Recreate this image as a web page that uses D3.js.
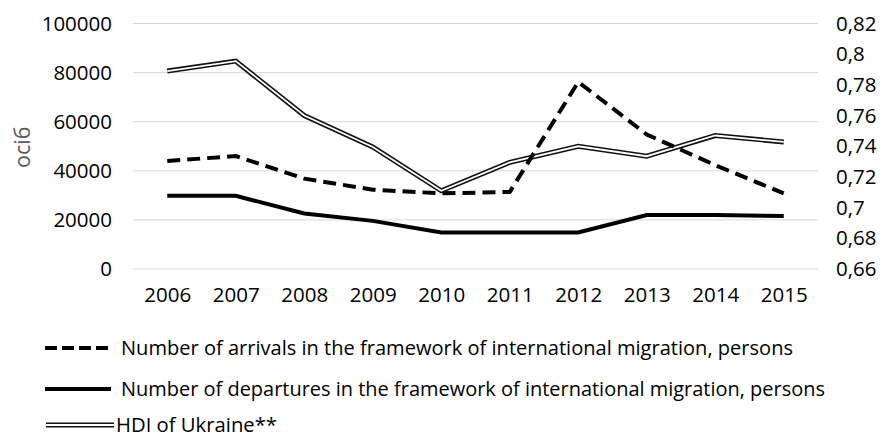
<!DOCTYPE html>
<html>
<head>
<meta charset="utf-8">
<script src="https://cdn.jsdelivr.net/npm/d3@7"></script>
<style>
  body { margin: 0; background: #fff; }
  svg { display: block; font-family: "Open Sans", sans-serif; }
</style>
</head>
<body>
<div id="chart"></div>
<script>
// data
const years = ["2006", "2007", "2008", "2009", "2010", "2011", "2012", "2013", "2014", "2015"];
const arrivals = [44000, 46000, 36800, 32300, 30800, 31400, 76200, 54800, 42300, 30800];
const departures = [29800, 29800, 22600, 19600, 14900, 14900, 14900, 22000, 22000, 21600];
const hdi = [0.789, 0.7955, 0.760, 0.7395, 0.711, 0.7295, 0.740, 0.7335, 0.747, 0.7428];
const leftTicks = [0, 20000, 40000, 60000, 80000, 100000];
const rightTicks = [0.66, 0.68, 0.70, 0.72, 0.74, 0.76, 0.78, 0.80, 0.82];
const yTitle = "осіб";
const legendLabels = [
    "Number of arrivals in the framework of international migration, persons",
    "Number of departures in the framework of international migration, persons",
    "HDI of Ukraine**"
];

const width = 882, height = 437;
const plot = {left: 133, right: 818, top: 23.5, bottom: 269};

const svg = d3.select("#chart").append("svg")
    .attr("width", width)
    .attr("height", height);

const x = d3.scalePoint()
    .domain(years)
    .range([plot.left, plot.right])
    .padding(0.5);

const yLeft = d3.scaleLinear()
    .domain([0, 100000])
    .range([plot.bottom, plot.top]);

const yRight = d3.scaleLinear()
    .domain([0.66, 0.82])
    .range([plot.bottom, plot.top]);

// gridlines
svg.append("g")
    .selectAll("line")
    .data(leftTicks)
    .join("line")
    .attr("x1", plot.left)
    .attr("x2", plot.right)
    .attr("y1", d => yLeft(d))
    .attr("y2", d => yLeft(d))
    .attr("stroke", "#d9d9d9")
    .attr("stroke-width", 1);

// left axis
svg.append("g")
    .attr("transform", `translate(${plot.left - 21},0)`)
    .call(d3.axisLeft(yLeft).tickValues(leftTicks).tickSize(0).tickPadding(0).tickFormat(d3.format("d")))
    .call(g => g.select(".domain").remove())
    .selectAll("text")
    .attr("font-family", "Open Sans, sans-serif")
    .attr("font-size", 20.5)
    .attr("fill", "#000");

// right axis
svg.append("g")
    .attr("transform", `translate(836,0)`)
    .call(d3.axisRight(yRight).tickValues(rightTicks).tickSize(0).tickPadding(0)
        .tickFormat(d => d3.format("~r")(+d.toFixed(2)).replace(".", ",")))
    .call(g => g.select(".domain").remove())
    .selectAll("text")
    .attr("font-family", "Open Sans, sans-serif")
    .attr("font-size", 20.5)
    .attr("fill", "#000");

// bottom axis
svg.append("g")
    .attr("transform", `translate(0,${plot.bottom + 18})`)
    .call(d3.axisBottom(x).tickSize(0).tickPadding(0))
    .call(g => g.select(".domain").remove())
    .selectAll("text")
    .attr("font-family", "Open Sans, sans-serif")
    .attr("font-size", 20.5)
    .attr("fill", "#000");

// y axis title
svg.append("text")
    .attr("transform", `translate(30,${(plot.top + plot.bottom) / 2 + 1}) rotate(-90)`)
    .attr("text-anchor", "middle")
    .attr("font-size", 21.5)
    .attr("fill", "#595959")
    .text(yTitle);

const lineLeft = d3.line()
    .x((d, i) => x(years[i]))
    .y(d => yLeft(d));

const lineRight = d3.line()
    .x((d, i) => x(years[i]))
    .y(d => yRight(d));

// HDI: double line
svg.append("path")
    .datum(hdi)
    .attr("d", lineRight)
    .attr("fill", "none")
    .attr("stroke", "#111")
    .attr("stroke-width", 5);
svg.append("path")
    .datum(hdi)
    .attr("d", lineRight)
    .attr("fill", "none")
    .attr("stroke", "#fff")
    .attr("stroke-width", 1.8);

// departures
svg.append("path")
    .datum(departures)
    .attr("d", lineLeft)
    .attr("fill", "none")
    .attr("stroke", "#000")
    .attr("stroke-width", 4);

// arrivals
svg.append("path")
    .datum(arrivals)
    .attr("d", lineLeft)
    .attr("fill", "none")
    .attr("stroke", "#000")
    .attr("stroke-width", 4)
    .attr("stroke-dasharray", "13,7");

// legend
const legendY = [348, 389, 425];
const legendEnd = [793, 825, 277];
const lg = svg.append("g");

lg.append("line")
    .attr("x1", 45).attr("x2", 111)
    .attr("y1", legendY[0]).attr("y2", legendY[0])
    .attr("stroke", "#000").attr("stroke-width", 4)
    .attr("stroke-dasharray", "12,5");

lg.append("line")
    .attr("x1", 45).attr("x2", 111)
    .attr("y1", legendY[1]).attr("y2", legendY[1])
    .attr("stroke", "#000").attr("stroke-width", 4);

lg.append("line")
    .attr("x1", 46).attr("x2", 114)
    .attr("y1", legendY[2]).attr("y2", legendY[2])
    .attr("stroke", "#111").attr("stroke-width", 5);
lg.append("line")
    .attr("x1", 46).attr("x2", 114)
    .attr("y1", legendY[2]).attr("y2", legendY[2])
    .attr("stroke", "#fff").attr("stroke-width", 1.8);

legendLabels.forEach(function (label, i) {
    const startX = i === 2 ? 116 : 121;
    lg.append("text")
        .attr("x", startX)
        .attr("y", legendY[i] + 6.5)
        .attr("font-size", 20.5)
        .attr("fill", "#000")
        .attr("textLength", legendEnd[i] - startX)
        .attr("lengthAdjust", "spacingAndGlyphs")
        .text(label);
});
</script>
</body>
</html>
